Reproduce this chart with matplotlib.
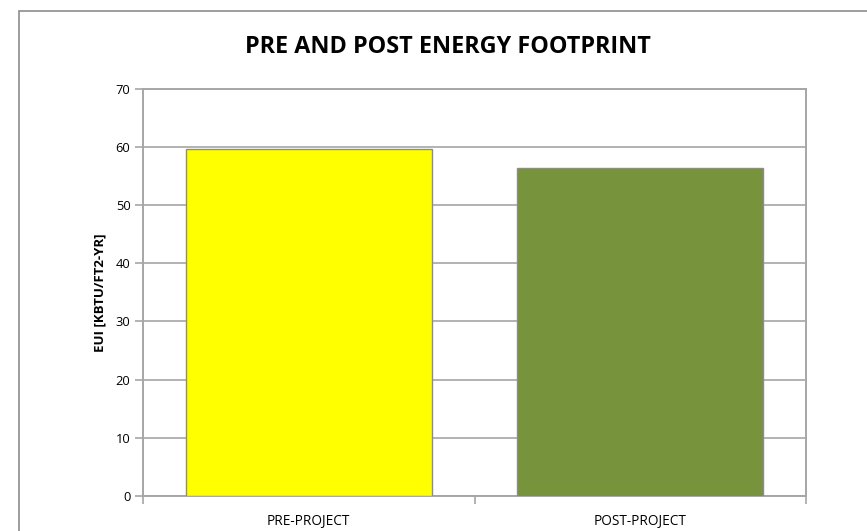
import matplotlib
matplotlib.use("Agg")
import matplotlib.pyplot as plt
from matplotlib.patches import Rectangle

# data
categories = ["PRE-PROJECT", "POST-PROJECT"]
eui_values = [59.55, 56.4]
bar_colors = ["#FFFF00", "#77933C"]
y_ticks = [0, 10, 20, 30, 40, 50, 60, 70]

W, H = 867, 531
FONT = ["Open Sans", "DejaVu Sans"]
GRID = "#A6A6A6"

fig = plt.figure(figsize=(W / 100, H / 100), dpi=100, facecolor="white")

# outer chart border (runs off the right and bottom edge)
fig.patches.append(
    Rectangle(
        (19 / W, -0.2), 1.2, 1.2 - 11 / H,
        transform=fig.transFigure, facecolor="none", edgecolor="#8C8C8C",
        linewidth=1.2, zorder=0,
    )
)

ax = fig.add_axes([143 / W, 1 - 496 / H, (806 - 143) / W, (496 - 88.5) / H])
x = list(range(len(categories)))
ax.bar(x, eui_values, width=0.742, color=bar_colors, edgecolor="#8C8C8C", linewidth=1.0, zorder=3)

ax.set_xlim(-0.5, len(categories) - 0.5)
ax.set_ylim(0, 70)
ax.set_yticks(y_ticks)
ax.set_yticklabels([str(v) for v in y_ticks], fontsize=9.3, family=FONT)
ax.yaxis.grid(True, color=GRID, linewidth=1.2, zorder=0)
ax.set_axisbelow(True)

# category labels centered, ticks at boundaries
ax.set_xticks(x)
ax.set_xticklabels(categories, fontsize=9.8, family=FONT)
ax.tick_params(axis="x", length=0, pad=13)
ax.set_xticks([-0.5, 0.5, 1.5], minor=True)
ax.tick_params(axis="x", which="minor", length=6, width=1.2, color=GRID, direction="out")
ax.tick_params(axis="y", length=6, width=1.2, color=GRID, direction="out", pad=3)

for side in ["left", "right", "top", "bottom"]:
    ax.spines[side].set_color(GRID)
    ax.spines[side].set_linewidth(1.4)

ax.set_ylabel("EUI [KBTU/FT2-YR]", fontsize=9.5, fontweight="bold", family=FONT, labelpad=7)

fig.text(448 / W, 1 - 47 / H, "PRE AND POST ENERGY FOOTPRINT", ha="center", va="center",
         fontsize=16.8, fontweight="bold", family=FONT)

fig.savefig("out.png", dpi=100, facecolor="white")
